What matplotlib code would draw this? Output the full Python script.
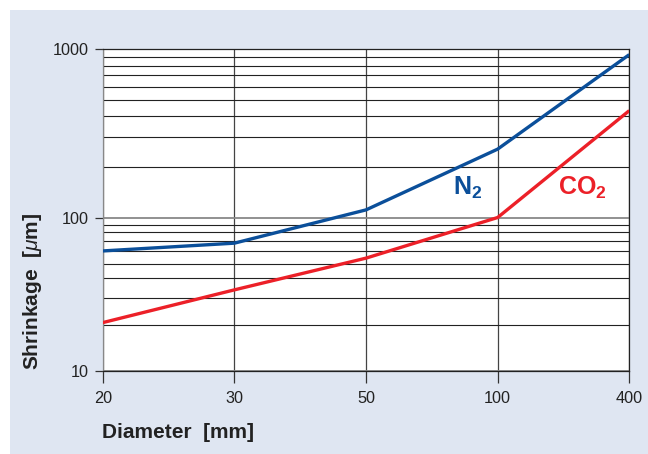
import numpy as np
import matplotlib.pyplot as plt
from matplotlib.patches import Rectangle
from matplotlib.ticker import NullFormatter, FixedLocator

plt.rcParams['font.family'] = ['Liberation Sans', 'DejaVu Sans']
plt.rcParams['mathtext.fontset'] = 'custom'
plt.rcParams['mathtext.rm'] = 'Liberation Sans'
plt.rcParams['mathtext.it'] = 'Liberation Sans:italic'
plt.rcParams['mathtext.bf'] = 'Liberation Sans:bold'

# Datos
diametros = ['20', '30', '50', '100', '400']
n2 = [60.5, 68, 111, 255, 930]
co2 = [20.6, 33.7, 54.3, 100, 432]

azul = '#0b4f9a'
rojo = '#ec2028'
fondo = '#dfe6f2'

# El original no tiene decadas iguales: 10-100 es algo mas corta que 100-1000
d1, d2 = 153.0, 168.0


def adelante(y):
    ly = np.log10(np.clip(y, 1e-3, None))
    return np.where(ly <= 2, (ly - 1) * d1, d1 + (ly - 2) * d2)


def inversa(t):
    t = np.asarray(t, dtype=float)
    return np.where(t <= d1, 10 ** (1 + t / d1), 10 ** (2 + (t - d1) / d2))


fig = plt.figure(figsize=(6.48, 4.54), dpi=100)
fig.patches.append(Rectangle((10 / 648, 0), 1, 444 / 454, transform=fig.transFigure,
                             facecolor=fondo, edgecolor='none', zorder=-10))

ax = fig.add_axes([102.7 / 648, 1 - 370.7 / 454, (629.3 - 102.7) / 648, (370.7 - 49.3) / 454])
ax.set_facecolor('white')
ax.set_zorder(1)

x = range(len(diametros))
ax.plot(x, n2, color=azul, lw=2.4, solid_capstyle='butt', zorder=3)
ax.plot(x, co2, color=rojo, lw=2.4, solid_capstyle='butt', zorder=3)

ax.set_yscale('function', functions=(adelante, inversa))
ax.set_ylim(10, 1000)
ax.set_xlim(0, len(diametros) - 1)
ax.set_xticks(list(x))
ax.set_xticklabels(diametros)
ax.yaxis.set_major_locator(FixedLocator([10, 100, 1000]))
ax.set_yticklabels(['10', '100', '1000'])
menores = [m * 10 for m in range(2, 10)] + [m * 100 for m in range(2, 10)]
ax.yaxis.set_minor_locator(FixedLocator(menores))
ax.yaxis.set_minor_formatter(NullFormatter())

# Rejilla
ax.grid(True, which='major', axis='x', color='#444444', lw=0.9)
ax.grid(True, which='major', axis='y', color='#888888', lw=1.3)
ax.grid(True, which='minor', axis='y', color='#222222', lw=0.8)

ax.tick_params(axis='both', which='major', width=0.9, color='#333333',
               labelsize=11.7, labelcolor='#222222')
ax.tick_params(axis='x', which='major', length=8.6, pad=6)
ax.tick_params(axis='y', which='major', length=5.5, pad=4.3)
ax.tick_params(axis='y', which='minor', length=0)
for s in ax.spines.values():
    s.set_color('#222222')
    s.set_linewidth(0.9)
ax.spines['left'].set_color('#888888')

# Etiquetas de las curvas
ax.text(2.77, 136.5, r'N$_\mathbf{2}$', color=azul, fontsize=18, fontweight='bold',
        ha='center', va='baseline')
ax.text(3.64, 136.5, r'CO$_\mathbf{2}$', color=rojo, fontsize=18, fontweight='bold',
        ha='center', va='baseline')

fig.text(178 / 648, 1 - 432 / 454, 'Diameter  [mm]', fontsize=15, fontweight='bold',
         color='#222222', ha='center', va='center')
fig.text(33 / 648, 1 - 291 / 454, r'Shrinkage  [$\mathit{\mu}$m]', fontsize=15,
         fontweight='bold', color='#222222', ha='center', va='center', rotation=90)

fig.savefig('out.png', dpi=100)
